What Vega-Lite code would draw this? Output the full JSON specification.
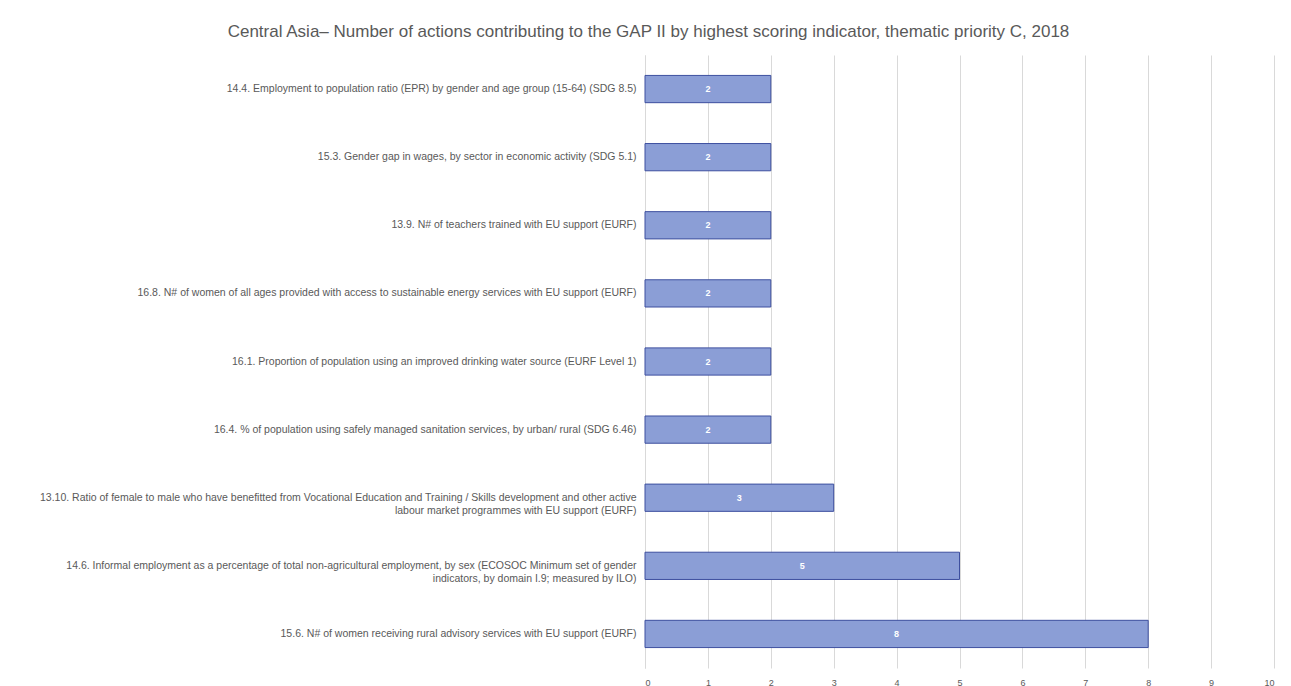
{
  "$schema": "https://vega.github.io/schema/vega-lite/v6.json",
  "width": 629,
  "height": 613,
  "autosize": {"type": "none"},
  "padding": {"left": 645, "top": 55, "right": 17, "bottom": 18},
  "background": "white",
  "config": {"view": {"stroke": null}},
  "title": {
    "text": "Central Asia– Number of actions contributing to the GAP II by highest scoring indicator, thematic priority C, 2018",
    "font": "Liberation Sans",
    "fontSize": 17,
    "fontWeight": "normal",
    "color": "#595959",
    "anchor": "middle",
    "dx": -311,
    "offset": 14
  },
  "data": {
    "values": [
      {"indicator": "14.4. Employment to population ratio (EPR) by gender and age group (15-64) (SDG 8.5)", "actions": 2},
      {"indicator": "15.3. Gender gap in wages, by sector in economic activity (SDG 5.1)", "actions": 2},
      {"indicator": "13.9. N# of teachers trained with EU support (EURF)", "actions": 2},
      {"indicator": "16.8. N# of women of all ages provided with access to sustainable energy services with EU support (EURF)", "actions": 2},
      {"indicator": "16.1. Proportion of population using an improved drinking water source (EURF Level 1)", "actions": 2},
      {"indicator": "16.4. % of population using safely managed sanitation services, by urban/ rural (SDG 6.46)", "actions": 2},
      {"indicator": "13.10. Ratio of female to male who have benefitted from Vocational Education and Training / Skills development and other active|labour market programmes with EU support (EURF)", "actions": 3},
      {"indicator": "14.6. Informal employment as a percentage of total non-agricultural employment, by sex (ECOSOC Minimum set of gender|indicators, by domain I.9; measured by ILO)", "actions": 5},
      {"indicator": "15.6. N# of women receiving rural advisory services with EU support (EURF)", "actions": 8}
    ]
  },
  "encoding": {
    "y": {
      "field": "indicator",
      "type": "nominal",
      "sort": null,
      "scale": {"paddingInner": 0.6, "paddingOuter": 0.3},
      "axis": {
        "title": null,
        "labelExpr": "split(datum.label, '|')",
        "labelFont": "Liberation Sans",
        "labelFontSize": 10.5,
        "labelColor": "#595959",
        "labelLimit": 700,
        "labelPadding": 9,
        "labelLineHeight": 13,
        "ticks": false,
        "domain": true,
        "domainColor": "#d9d9d9",
        "grid": false
      }
    }
  },
  "layer": [
    {
      "mark": {"type": "bar", "fill": "#8b9ed6", "stroke": "#3d4f9f", "strokeWidth": 1},
      "encoding": {
        "x": {
          "field": "actions",
          "type": "quantitative",
          "scale": {"domain": [0, 10], "nice": false},
          "axis": {
            "title": null,
            "values": [0, 1, 2, 3, 4, 5, 6, 7, 8, 9, 10],
            "labelOverlap": false,
            "grid": true,
            "gridColor": "#d9d9d9",
            "gridWidth": 1,
            "domain": false,
            "ticks": false,
            "labelFont": "Liberation Sans",
            "labelFontSize": 9,
            "labelColor": "#595959",
            "labelPadding": 10
          }
        }
      }
    },
    {
      "mark": {"type": "text", "color": "white", "font": "Liberation Sans", "fontSize": 9, "fontWeight": "bold"},
      "encoding": {
        "x": {
          "field": "actions",
          "type": "quantitative",
          "scale": {"domain": [0, 20], "nice": false},
          "axis": null
        },
        "text": {"field": "actions", "type": "quantitative"}
      }
    }
  ],
  "resolve": {"scale": {"x": "independent"}, "axis": {"x": "independent"}}
}
